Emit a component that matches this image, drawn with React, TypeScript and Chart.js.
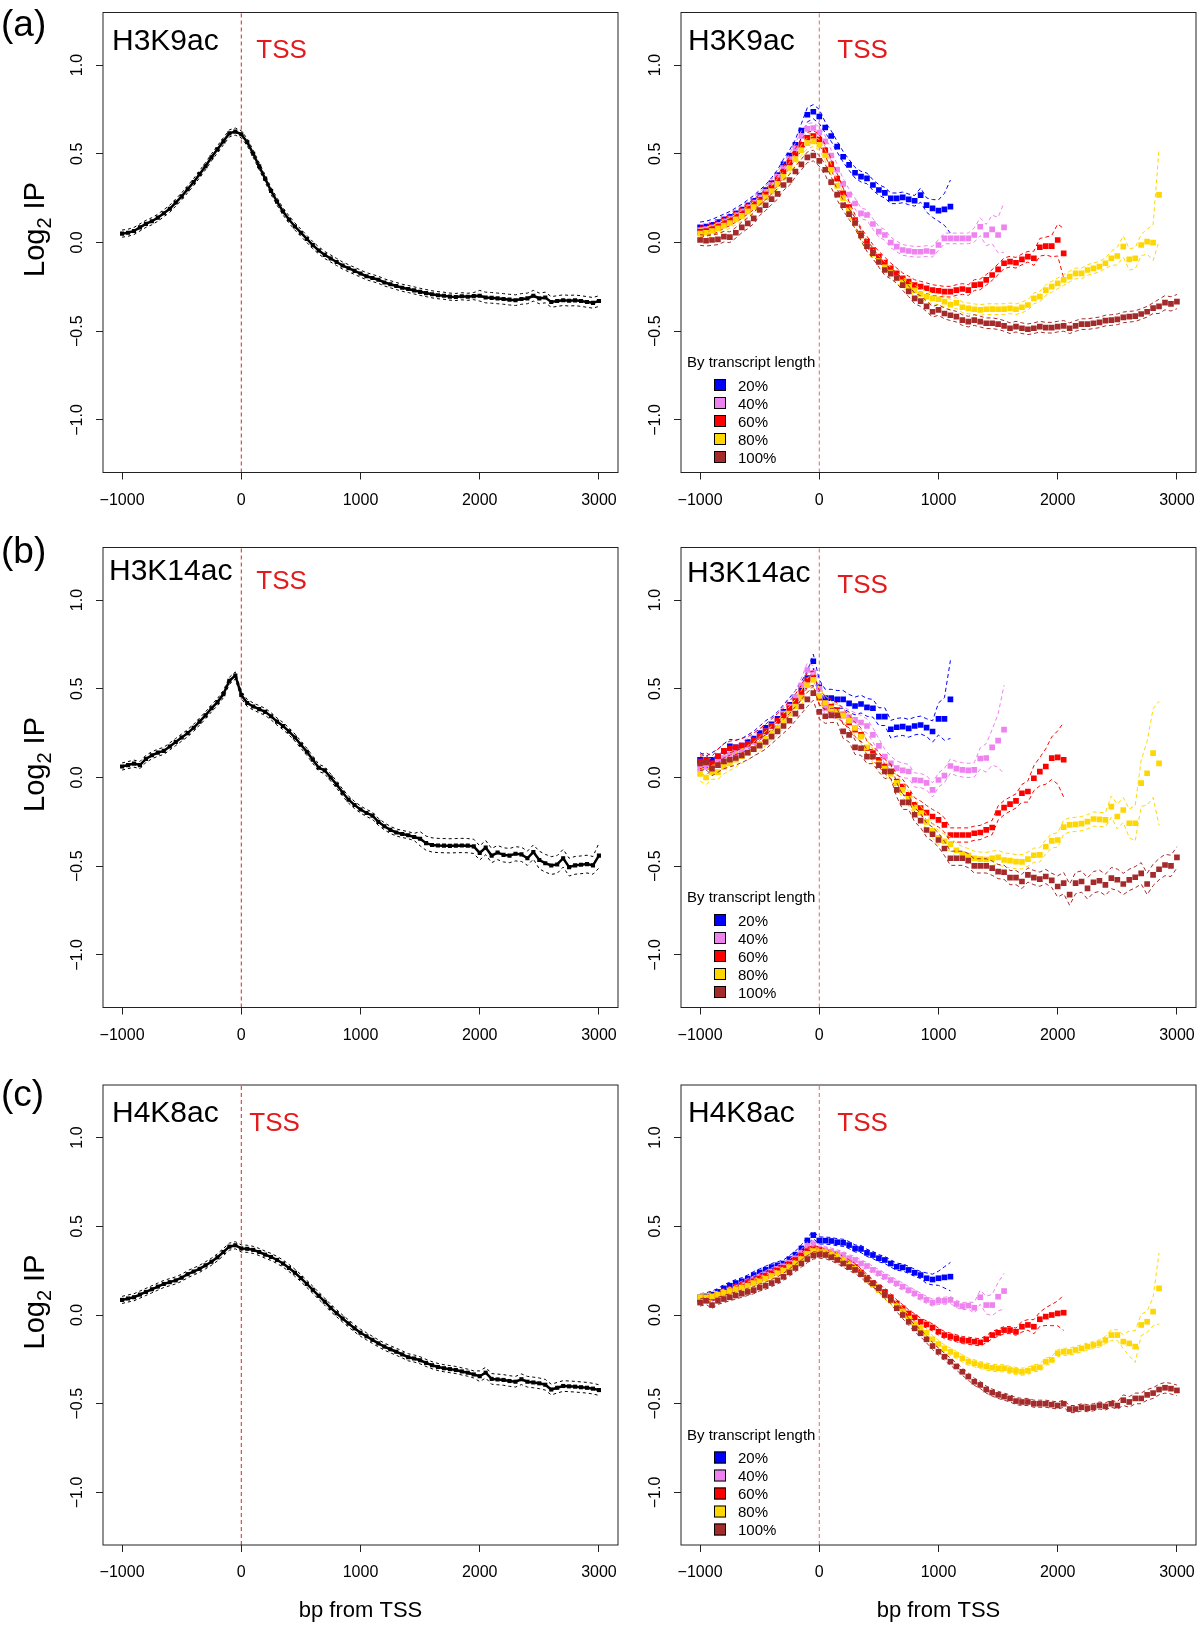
import React, { useEffect, useRef } from 'react';
import { Chart, registerables } from 'chart.js';
Chart.register(...registerables);

const FONT = '"Liberation Sans", Arial, Helvetica, sans-serif';

// ---- axes / categories ----
const X_START = -1000;
const X_STEP = 50;
const X_MIN = -1160;
const X_MAX = 3160;
const Y_MIN = -1.296;
const Y_MAX = 1.296;
const xTickValues = [-1000, 0, 1000, 2000, 3000];
const xTickLabels = ['\u22121000', '0', '1000', '2000', '3000'];
const yTickValues = [-1, -0.5, 0, 0.5, 1];
const yTickLabels = ['\u22121.0', '\u22120.5', '0.0', '0.5', '1.0'];
const tssPosition = 0;

const groupLabels = ['20%', '40%', '60%', '80%', '100%'];
const groupColors = ['#0000FF', '#EE82EE', '#FF0000', '#FFD700', '#A52A2A'];
const legendTitle = 'By transcript length';
const xAxisTitle = 'bp from TSS';

// ---- (a) H3K9ac ----
const h3k9acAll = [0.05,0.055,0.065,0.085,0.105,0.12,0.14,0.165,0.19,0.225,
  0.26,0.30,0.34,0.385,0.43,0.48,0.525,0.57,0.615,0.625,
  0.61,0.565,0.50,0.43,0.36,0.29,0.23,0.175,0.13,0.09,
  0.055,0.02,-0.015,-0.045,-0.07,-0.09,-0.11,-0.13,-0.145,-0.16,
  -0.175,-0.19,-0.2,-0.21,-0.225,-0.235,-0.245,-0.255,-0.262,-0.27,
  -0.278,-0.285,-0.292,-0.297,-0.30,-0.305,-0.307,-0.303,-0.306,-0.302,
  -0.30,-0.31,-0.312,-0.315,-0.318,-0.322,-0.325,-0.318,-0.315,-0.30,
  -0.315,-0.31,-0.335,-0.33,-0.325,-0.328,-0.326,-0.33,-0.335,-0.34,
  -0.33];
const h3k9acAllErr = [2,2,2,2,2,2,2,2,2,2, 2,2,2,2,2,2,2,2,2,2, 2,2,2,2,2,2,2,2,2,2,
  2,2,2,2,2,2,2,2,2,2, 2,2,2,2,2,2,2,2,2,2, 2,2,2,2,2,2,2,2,2,2,
  3,3,3,3,3,3,3,3,3,3, 3,3,3,3,3,3,3,3,3,3, 3];

const h3k9acBlue = [0.085,0.09,0.10,0.115,0.13,0.145,0.165,0.185,0.21,0.235,
  0.265,0.295,0.335,0.38,0.44,0.49,0.55,0.63,0.72,0.737,
  0.71,0.648,0.60,0.54,0.483,0.437,0.393,0.371,0.361,0.324,
  0.296,0.28,0.249,0.249,0.254,0.243,0.235,0.267,0.211,0.192,
  0.18,0.187,0.202];
const h3k9acBlueErr = [3,3,3,3,3,3,3,3,3,3, 3,3,3,3,3,3,3,4,4,4, 4,3,3,3,3,3,3,3,3,3,
  3,3,3,3,3,3,3,4,4,5, 6,9,15];
const h3k9acViolet = [0.07,0.075,0.085,0.10,0.12,0.135,0.155,0.175,0.2,0.225,
  0.255,0.285,0.325,0.37,0.42,0.47,0.53,0.6,0.64,0.645,
  0.62,0.57,0.49,0.41,0.33,0.27,0.22,0.164,0.155,0.104,
  0.061,0.042,0.0,-0.023,-0.042,-0.048,-0.052,-0.052,-0.048,-0.052,
  -0.014,0.023,0.023,0.023,0.023,0.023,0.042,0.089,0.042,0.074,
  0.042,0.085];
const h3k9acVioletErr = [3,3,3,3,3,3,3,3,3,3, 3,3,3,3,3,3,3,3,3,3, 3,3,3,3,3,3,3,3,3,3,
  3,3,3,3,3,3,3,3,3,3, 3,3,3,3,3,3,4,5,6,8, 10,14];
const h3k9acRed = [0.06,0.065,0.075,0.09,0.11,0.125,0.145,0.165,0.19,0.215,
  0.24,0.27,0.31,0.35,0.40,0.45,0.5,0.55,0.59,0.6,
  0.58,0.52,0.44,0.36,0.277,0.2,0.127,0.05,0.005,-0.042,
  -0.08,-0.113,-0.146,-0.174,-0.202,-0.22,-0.24,-0.249,-0.258,-0.268,
  -0.273,-0.277,-0.277,-0.268,-0.262,-0.268,-0.24,-0.236,-0.211,-0.183,
  -0.151,-0.117,-0.108,-0.114,-0.095,-0.08,-0.089,-0.027,-0.02,-0.02,
  0.014,-0.061];
const h3k9acRedErr = [3,3,3,3,3,3,3,3,3,3, 3,3,3,3,3,3,3,3,3,3, 3,3,3,3,3,3,3,3,3,3,
  3,3,3,3,3,3,3,3,3,3, 3,3,3,3,3,3,3,3,3,3, 3,3,3,3,3,3,4,5,5,6, 9,14];
const h3k9acYellow = [0.05,0.055,0.065,0.08,0.095,0.11,0.13,0.15,0.175,0.2,
  0.225,0.255,0.29,0.33,0.37,0.42,0.47,0.52,0.56,0.57,
  0.55,0.49,0.41,0.32,0.25,0.18,0.11,0.04,-0.02,-0.065,
  -0.105,-0.14,-0.17,-0.2,-0.225,-0.25,-0.27,-0.29,-0.305,-0.315,
  -0.32,-0.333,-0.35,-0.34,-0.365,-0.371,-0.376,-0.38,-0.376,-0.375,
  -0.376,-0.375,-0.371,-0.376,-0.365,-0.352,-0.315,-0.305,-0.268,-0.249,
  -0.23,-0.211,-0.192,-0.174,-0.174,-0.155,-0.146,-0.136,-0.117,-0.089,
  -0.076,-0.023,-0.095,-0.089,-0.014,0.005,-0.001,0.268];
const h3k9acYellowErr = [3,3,3,3,3,3,3,3,3,3, 3,3,3,3,3,3,3,3,3,3, 3,3,3,3,3,3,3,3,3,3,
  3,3,3,3,3,3,3,3,3,3, 3,3,3,3,3,3,3,3,3,3, 3,3,3,3,3,3,3,3,3,3,
  3,3,3,3,3,3,3,3,3,4, 5,6,6,6,6,7,10,26];
const h3k9acBrown = [0.014,0.01,0.014,0.018,0.033,0.03,0.055,0.085,0.108,0.136,
  0.183,0.21,0.244,0.274,0.324,0.352,0.4,0.44,0.48,0.49,
  0.46,0.41,0.34,0.27,0.21,0.16,0.11,0.04,-0.02,-0.06,
  -0.11,-0.155,-0.175,-0.2,-0.24,-0.275,-0.315,-0.33,-0.36,-0.39,
  -0.38,-0.4,-0.41,-0.418,-0.437,-0.446,-0.437,-0.446,-0.455,-0.455,
  -0.46,-0.47,-0.483,-0.474,-0.483,-0.489,-0.483,-0.474,-0.48,-0.48,
  -0.474,-0.47,-0.483,-0.47,-0.46,-0.46,-0.455,-0.45,-0.44,-0.437,
  -0.433,-0.422,-0.418,-0.415,-0.403,-0.39,-0.37,-0.36,-0.339,-0.346,
  -0.333];
const h3k9acBrownErr = [3,3,3,3,3,3,3,3,3,3, 3,3,3,3,3,3,3,3,3,3, 3,3,3,3,3,3,3,3,3,3,
  3,3,3,3,3,3,3,3,3,3, 3,3,3,3,3,3,3,3,3,3, 3,3,3,3,3,3,3,3,3,3,
  3,3,3,3,3,3,3,3,3,3, 3,3,3,3,3,3,3,4,4,4, 4];

// ---- (b) H3K14ac ----
const h3k14acAll = [0.062,0.07,0.078,0.07,0.105,0.125,0.14,0.15,0.175,0.2,
  0.225,0.25,0.28,0.315,0.35,0.39,0.425,0.47,0.545,0.575,
  0.465,0.42,0.40,0.385,0.37,0.345,0.315,0.29,0.26,0.225,
  0.185,0.145,0.10,0.055,0.04,0.0,-0.04,-0.085,-0.125,-0.155,
  -0.18,-0.20,-0.215,-0.25,-0.275,-0.295,-0.31,-0.318,-0.325,-0.335,
  -0.345,-0.37,-0.38,-0.383,-0.384,-0.385,-0.384,-0.383,-0.384,-0.388,
  -0.425,-0.395,-0.44,-0.423,-0.436,-0.44,-0.43,-0.433,-0.455,-0.42,
  -0.465,-0.483,-0.496,-0.49,-0.455,-0.505,-0.495,-0.492,-0.488,-0.495,
  -0.44];
const h3k14acAllErr = [2,2,2,2,2,2,2,2,2,2, 2,2,2,2,2,2,2,2,2,2, 2,2,2,2,2,2,2,2,2,2,
  2,2,2,2,2,2,2,2,2,2, 2,2,2,2,2,2,2,2,2,2, 4,4,4,4,4,4,4,4,4,4,
  4,4,4,4,4,4,4,4,4,4, 5,5,5,5,5,5,5,5,5,5, 7];

const h3k14acBlue = [0.1,0.08,0.1,0.12,0.15,0.175,0.17,0.18,0.2,0.22,
  0.25,0.28,0.3,0.33,0.37,0.41,0.45,0.5,0.56,0.655,
  0.51,0.447,0.447,0.44,0.44,0.418,0.403,0.414,0.395,0.39,
  0.343,0.343,0.272,0.283,0.287,0.277,0.29,0.296,0.281,0.259,
  0.33,0.33,0.44];
const h3k14acBlueErr = [4,4,4,4,4,4,4,4,4,4, 4,4,4,4,4,4,4,4,4,4, 4,5,5,5,5,5,5,5,5,5,
  5,5,5,5,5,5,5,5,5,6, 9,12,22];
const h3k14acViolet = [0.05,0.06,0.07,0.09,0.11,0.13,0.14,0.16,0.18,0.2,
  0.23,0.26,0.29,0.32,0.36,0.4,0.45,0.52,0.606,0.59,
  0.5,0.39,0.38,0.37,0.358,0.34,0.325,0.31,0.29,0.24,
  0.178,0.118,0.08,0.053,0.04,0.034,-0.014,-0.017,-0.03,-0.07,
  -0.014,0.011,0.065,0.05,0.043,0.04,0.043,0.107,0.11,0.17,
  0.208,0.27];
const h3k14acVioletErr = [4,4,4,4,4,4,4,4,4,4, 4,4,4,4,4,4,4,4,4,4, 4,4,4,4,4,4,4,4,4,4,
  4,4,4,4,4,4,4,4,4,4, 4,4,4,4,4,4,4,6,8,10, 15,25];
const h3k14acRed = [0.09,0.1,0.08,0.12,0.15,0.165,0.17,0.18,0.19,0.21,
  0.235,0.26,0.29,0.32,0.35,0.39,0.43,0.48,0.55,0.56,
  0.45,0.42,0.40,0.38,0.35,0.31,0.27,0.24,0.165,0.137,
  0.1,0.062,0.034,-0.023,-0.051,-0.098,-0.154,-0.173,-0.198,-0.22,
  -0.239,-0.267,-0.324,-0.324,-0.324,-0.324,-0.314,-0.31,-0.295,-0.282,
  -0.2,-0.17,-0.15,-0.132,-0.089,-0.079,-0.004,0.033,0.062,0.109,
  0.113,0.1];
const h3k14acRedErr = [4,4,4,4,4,4,4,4,4,4, 4,4,4,4,4,4,4,4,4,4, 4,4,4,4,4,4,4,4,4,4,
  4,4,4,4,4,4,4,4,4,4, 4,4,4,4,4,4,4,4,4,4, 4,4,4,4,5,6,7,8,10,12, 15,21];
const h3k14acYellow = [0.02,0.0,0.03,0.03,0.06,0.08,0.1,0.12,0.14,0.16,
  0.19,0.22,0.25,0.28,0.32,0.36,0.4,0.45,0.52,0.55,
  0.46,0.42,0.39,0.37,0.35,0.32,0.28,0.23,0.17,0.12,
  0.08,0.05,0.02,-0.03,-0.07,-0.12,-0.17,-0.2,-0.25,-0.3,
  -0.34,-0.36,-0.375,-0.41,-0.43,-0.44,-0.455,-0.46,-0.462,-0.455,
  -0.45,-0.465,-0.468,-0.474,-0.475,-0.46,-0.438,-0.436,-0.39,-0.357,
  -0.352,-0.28,-0.267,-0.264,-0.26,-0.249,-0.234,-0.236,-0.239,-0.164,
  -0.22,-0.183,-0.258,-0.258,-0.032,0.024,0.137,0.08];
const h3k14acYellowErr = [4,4,4,4,4,4,4,4,4,4, 4,4,4,4,4,4,4,4,4,4, 4,4,4,4,4,4,4,4,4,4,
  4,4,4,4,4,4,4,4,4,4, 4,4,4,4,4,4,4,4,4,4, 4,4,4,4,4,4,4,4,4,4,
  4,4,4,4,4,4,4,4,4,6, 7,7,8,10,13,18,25,35];
const h3k14acBrown = [0.08,0.085,0.05,0.07,0.09,0.1,0.11,0.125,0.14,0.16,
  0.18,0.2,0.23,0.26,0.29,0.32,0.36,0.4,0.44,0.475,
  0.37,0.345,0.35,0.35,0.26,0.24,0.17,0.165,0.118,0.118,
  0.07,0.034,0.034,-0.07,-0.14,-0.14,-0.21,-0.243,-0.296,-0.32,
  -0.352,-0.4,-0.455,-0.455,-0.455,-0.468,-0.498,-0.498,-0.498,-0.511,
  -0.53,-0.534,-0.564,-0.564,-0.586,-0.549,-0.564,-0.573,-0.558,-0.58,
  -0.614,-0.595,-0.66,-0.595,-0.586,-0.625,-0.59,-0.582,-0.605,-0.567,
  -0.576,-0.6,-0.577,-0.562,-0.54,-0.6,-0.549,-0.517,-0.493,-0.498,
  -0.45];
const h3k14acBrownErr = [4,4,4,4,4,4,4,4,4,4, 4,4,4,4,4,4,4,4,4,4, 4,4,4,4,4,4,4,4,4,4,
  4,4,4,4,4,4,4,4,4,4, 4,4,4,4,4,4,4,4,4,4, 4,4,4,4,4,4,4,4,4,4,
  6,6,6,6,6,6,6,6,6,6, 6,6,6,6,6,6,6,6,6,6, 6];

// ---- (c) H4K8ac ----
const h4k8acAll = [0.085,0.093,0.10,0.115,0.13,0.145,0.16,0.175,0.185,0.195,
  0.21,0.23,0.245,0.26,0.28,0.30,0.325,0.355,0.385,0.393,
  0.375,0.373,0.367,0.355,0.34,0.327,0.31,0.29,0.265,0.238,
  0.208,0.175,0.142,0.108,0.075,0.04,0.01,-0.02,-0.048,-0.075,
  -0.10,-0.12,-0.14,-0.16,-0.178,-0.193,-0.207,-0.222,-0.238,-0.245,
  -0.255,-0.27,-0.283,-0.293,-0.30,-0.305,-0.31,-0.318,-0.325,-0.335,
  -0.345,-0.325,-0.36,-0.363,-0.366,-0.372,-0.376,-0.362,-0.376,-0.38,
  -0.385,-0.393,-0.42,-0.41,-0.40,-0.402,-0.404,-0.407,-0.41,-0.415,
  -0.423];
const h4k8acAllErr = [2,2,2,2,2,2,2,2,2,2, 2,2,2,2,2,2,2,2,2,2, 2,2,2,2,2,2,2,2,2,2,
  2,2,2,2,2,2,2,2,2,2, 2,2,2,2,2,2,2,2,2,2, 2,2,2,2,2,2,2,2,2,2,
  3,3,3,3,3,3,3,3,3,3, 3,3,3,3,3,3,3,3,3,3, 3];

const h4k8acBlue = [0.1,0.105,0.115,0.13,0.15,0.165,0.18,0.19,0.205,0.225,
  0.24,0.255,0.27,0.28,0.29,0.315,0.34,0.375,0.42,0.45,
  0.42,0.419,0.417,0.41,0.407,0.394,0.375,0.372,0.35,0.338,
  0.32,0.31,0.29,0.272,0.268,0.254,0.238,0.225,0.207,0.2,
  0.207,0.212,0.216];
const h4k8acBlueErr = [2,2,2,2,2,2,2,2,2,2, 2,2,2,2,2,2,2,2,2,2, 2,2,2,2,2,2,2,2,2,2,
  2,2,2,2,2,2,2,2,3,3, 4,6,8];
const h4k8acViolet = [0.08,0.085,0.095,0.11,0.125,0.14,0.155,0.17,0.185,0.2,
  0.215,0.23,0.245,0.26,0.275,0.295,0.32,0.35,0.39,0.40,
  0.375,0.366,0.357,0.347,0.338,0.32,0.31,0.29,0.276,0.254,
  0.235,0.216,0.197,0.178,0.16,0.14,0.122,0.103,0.085,0.07,
  0.08,0.08,0.085,0.062,0.05,0.053,0.041,0.1,0.056,0.056,
  0.103,0.135];
const h4k8acVioletErr = [2,2,2,2,2,2,2,2,2,2, 2,2,2,2,2,2,2,2,2,2, 2,2,2,2,2,2,2,2,2,2,
  2,2,2,2,2,2,2,2,2,2, 2,2,2,2,2,2,3,4,5,6, 8,10];
const h4k8acRed = [0.09,0.095,0.1,0.115,0.13,0.14,0.155,0.165,0.18,0.19,
  0.205,0.22,0.235,0.25,0.265,0.285,0.31,0.335,0.36,0.37,
  0.365,0.35,0.34,0.33,0.31,0.29,0.27,0.24,0.21,0.18,
  0.155,0.13,0.1,0.065,0.038,0.009,-0.013,-0.038,-0.053,-0.07,
  -0.094,-0.113,-0.122,-0.131,-0.141,-0.145,-0.15,-0.154,-0.137,-0.113,
  -0.1,-0.085,-0.085,-0.094,-0.066,-0.056,-0.066,-0.024,-0.009,0.0,
  0.009,0.013];
const h4k8acRedErr = [2,2,2,2,2,2,2,2,2,2, 2,2,2,2,2,2,2,2,2,2, 2,2,2,2,2,2,2,2,2,2,
  2,2,2,2,2,2,2,2,2,2, 2,2,2,2,2,2,2,2,2,2, 2,2,2,2,3,3,4,4,5,6, 7,10];
const h4k8acYellow = [0.1,0.1,0.105,0.115,0.125,0.135,0.145,0.155,0.165,0.18,
  0.19,0.205,0.22,0.235,0.25,0.27,0.29,0.315,0.345,0.36,
  0.355,0.35,0.34,0.33,0.31,0.285,0.26,0.23,0.2,0.17,
  0.14,0.11,0.08,0.05,0.02,-0.02,-0.05,-0.075,-0.1,-0.137,
  -0.163,-0.188,-0.207,-0.225,-0.244,-0.263,-0.272,-0.282,-0.29,-0.297,
  -0.3,-0.3,-0.31,-0.315,-0.32,-0.314,-0.3,-0.295,-0.263,-0.253,
  -0.215,-0.207,-0.207,-0.197,-0.188,-0.178,-0.169,-0.16,-0.141,-0.113,
  -0.113,-0.15,-0.16,-0.178,-0.056,-0.038,0.019,0.15];
const h4k8acYellowErr = [2,2,2,2,2,2,2,2,2,2, 2,2,2,2,2,2,2,2,2,2, 2,2,2,2,2,2,2,2,2,2,
  2,2,2,2,2,2,2,2,2,2, 2,2,2,2,2,2,2,2,2,2, 2,2,2,2,2,2,2,2,2,2,
  2,2,2,2,2,2,2,2,2,3, 3,4,7,9,6,6,8,20];
const h4k8acBrown = [0.07,0.08,0.056,0.08,0.09,0.1,0.11,0.12,0.13,0.14,
  0.155,0.165,0.18,0.195,0.215,0.24,0.265,0.29,0.315,0.335,
  0.34,0.338,0.325,0.31,0.29,0.27,0.254,0.23,0.2,0.178,
  0.15,0.113,0.085,0.038,0.0,-0.038,-0.075,-0.103,-0.137,-0.175,
  -0.207,-0.235,-0.263,-0.29,-0.32,-0.347,-0.376,-0.394,-0.42,-0.437,
  -0.45,-0.46,-0.47,-0.485,-0.49,-0.49,-0.5,-0.5,-0.5,-0.505,
  -0.51,-0.5,-0.53,-0.53,-0.52,-0.525,-0.52,-0.51,-0.515,-0.5,
  -0.51,-0.48,-0.49,-0.47,-0.47,-0.45,-0.44,-0.42,-0.41,-0.415,
  -0.425];
const h4k8acBrownErr = [2,2,2,2,2,2,2,2,2,2, 2,2,2,2,2,2,2,2,2,2, 2,2,2,2,2,2,2,2,2,2,
  2,2,2,2,2,2,2,2,2,2, 2,2,2,2,2,2,2,2,2,2, 2,2,2,2,2,2,2,2,2,2,
  2,2,2,2,2,2,2,2,2,2, 2,3,3,3,3,3,3,3,3,3, 3];

// ---- panel layout ----
type PanelCfg = {
  key: string; left: number; top: number; width: number; height: number;
  padTop: number; padRight: number; yAxisW: number; xAxisH: number;
  title: string; titleDx: number; titleBase: number; tssDx: number; tssBase: number; tssLine: string;
  rowTag?: string; rowTagBase?: number; yTitle?: boolean; xTitleBase?: number;
  overall?: { values: number[]; err: number[] };
  groups?: { values: number[][]; err: number[][] };
};

const ROWS = [
  { top: 0, height: 535, padTop: 12.5, xAxisH: 62.5 },
  { top: 535, height: 537, padTop: 12.5, xAxisH: 64.5 },
  { top: 1072, height: 555, padTop: 13, xAxisH: 82 },
];
const LEFT_COL = { left: 0, width: 640, yAxisW: 103, padRight: 22 };
const RIGHT_COL = { left: 640, width: 560, yAxisW: 41, padRight: 4 };

const panels: PanelCfg[] = [
  { key: 'a1', ...LEFT_COL, ...ROWS[0], title: 'H3K9ac', titleDx: 9, titleBase: 37.5, tssDx: 15, tssBase: 45.5, tssLine: '#E02020',
    rowTag: '(a)', rowTagBase: 36, yTitle: true, overall: { values: h3k9acAll, err: h3k9acAllErr } },
  { key: 'a2', ...RIGHT_COL, ...ROWS[0], title: 'H3K9ac', titleDx: 7, titleBase: 37.5, tssDx: 18, tssBase: 45.5, tssLine: '#F06060',
    groups: { values: [h3k9acBlue, h3k9acViolet, h3k9acRed, h3k9acYellow, h3k9acBrown], err: [h3k9acBlueErr, h3k9acVioletErr, h3k9acRedErr, h3k9acYellowErr, h3k9acBrownErr] } },
  { key: 'b1', ...LEFT_COL, ...ROWS[1], title: 'H3K14ac', titleDx: 6, titleBase: 32, tssDx: 15, tssBase: 41.5, tssLine: '#E02020',
    rowTag: '(b)', rowTagBase: 28, yTitle: true, overall: { values: h3k14acAll, err: h3k14acAllErr } },
  { key: 'b2', ...RIGHT_COL, ...ROWS[1], title: 'H3K14ac', titleDx: 6, titleBase: 34, tssDx: 18, tssBase: 45, tssLine: '#F06060',
    groups: { values: [h3k14acBlue, h3k14acViolet, h3k14acRed, h3k14acYellow, h3k14acBrown], err: [h3k14acBlueErr, h3k14acVioletErr, h3k14acRedErr, h3k14acYellowErr, h3k14acBrownErr] } },
  { key: 'c1', ...LEFT_COL, ...ROWS[2], title: 'H4K8ac', titleDx: 9, titleBase: 37, tssDx: 8, tssBase: 45.5, tssLine: '#E02020',
    rowTag: '(c)', rowTagBase: 34, yTitle: true, xTitleBase: 545, overall: { values: h4k8acAll, err: h4k8acAllErr } },
  { key: 'c2', ...RIGHT_COL, ...ROWS[2], title: 'H4K8ac', titleDx: 7, titleBase: 37, tssDx: 18, tssBase: 45.5, tssLine: '#F06060',
    xTitleBase: 545,
    groups: { values: [h4k8acBlue, h4k8acViolet, h4k8acRed, h4k8acYellow, h4k8acBrown], err: [h4k8acBlueErr, h4k8acVioletErr, h4k8acRedErr, h4k8acYellowErr, h4k8acBrownErr] } },
];

const toPoints = (vals: number[], err: number[] | null, sign: number) =>
  vals.map((v, i) => ({ x: X_START + i * X_STEP, y: err ? v + (sign * err[i]) / 100 : v }));

function buildDatasets(p: PanelCfg) {
  // listed bottom -> top, reversed at the end (Chart.js draws index 0 last)
  const ds: any[] = [];
  ds.push({
    data: [{ x: tssPosition, y: Y_MIN }, { x: tssPosition, y: Y_MAX }],
    showLine: true, borderColor: p.tssLine, borderWidth: 1, borderDash: [4, 3], pointRadius: 0,
  });
  if (p.overall) {
    const { values, err } = p.overall;
    for (const s of [1, -1]) {
      ds.push({ data: toPoints(values, err, s), showLine: true, borderColor: '#000', borderWidth: 1,
        borderDash: [3, 3], pointRadius: 0 });
    }
    ds.push({ data: toPoints(values, null, 0), showLine: true, borderColor: '#000', borderWidth: 2.5,
      pointStyle: 'rect', pointRadius: 2.9, pointBackgroundColor: '#000', pointBorderWidth: 0 });
  }
  if (p.groups) {
    p.groups.values.forEach((values, g) => {
      const color = groupColors[g];
      ds.push({ data: toPoints(values, null, 0), showLine: false, pointStyle: 'rect', pointRadius: 4,
        pointBackgroundColor: color, pointBorderWidth: 0 });
      for (const s of [1, -1]) {
        ds.push({ data: toPoints(values, p.groups!.err[g], s), showLine: true, borderColor: color,
          borderWidth: 1, borderDash: [4, 3], pointRadius: 0 });
      }
    });
  }
  return ds.reverse();
}

function makeDecor(p: PanelCfg) {
  return {
    id: 'decor_' + p.key,
    afterDraw(chart: any) {
      const ctx = chart.ctx as CanvasRenderingContext2D;
      const ca = chart.chartArea;
      ctx.save();
      ctx.strokeStyle = '#222';
      ctx.lineWidth = 1;
      ctx.strokeRect(ca.left, ca.top, ca.right - ca.left, ca.bottom - ca.top);

      ctx.textAlign = 'left';
      ctx.textBaseline = 'alphabetic';
      ctx.fillStyle = '#000';
      ctx.font = `30px ${FONT}`;
      ctx.fillText(p.title, ca.left + p.titleDx, ca.top + p.titleBase);

      const x0 = chart.scales.x.getPixelForValue(tssPosition);
      ctx.fillStyle = '#E41A1C';
      ctx.font = `26px ${FONT}`;
      ctx.fillText('TSS', x0 + p.tssDx, ca.top + p.tssBase);

      if (p.rowTag) {
        ctx.fillStyle = '#000';
        ctx.font = `37px ${FONT}`;
        ctx.fillText(p.rowTag, 1, p.rowTagBase!);
      }

      if (p.yTitle) {
        ctx.save();
        ctx.translate(44, (ca.top + ca.bottom) / 2 - 13);
        ctx.rotate(-Math.PI / 2);
        ctx.fillStyle = '#000';
        ctx.font = `29px ${FONT}`;
        const w1 = ctx.measureText('Log').width;
        const w3 = ctx.measureText(' IP').width;
        ctx.font = `20px ${FONT}`;
        const w2 = ctx.measureText('2').width;
        const sx = -(w1 + w2 + w3) / 2;
        ctx.font = `29px ${FONT}`;
        ctx.fillText('Log', sx, 0);
        ctx.font = `20px ${FONT}`;
        ctx.fillText('2', sx + w1, 7);
        ctx.font = `29px ${FONT}`;
        ctx.fillText(' IP', sx + w1 + w2, 0);
        ctx.restore();
      }

      if (p.xTitleBase) {
        ctx.fillStyle = '#000';
        ctx.font = `22px ${FONT}`;
        ctx.textAlign = 'center';
        ctx.fillText(xAxisTitle, (ca.left + ca.right) / 2, p.xTitleBase);
        ctx.textAlign = 'left';
      }

      if (p.groups) {
        ctx.fillStyle = '#000';
        ctx.font = `15px ${FONT}`;
        ctx.fillText(legendTitle, ca.left + 6, ca.top + 354.5);
        groupLabels.forEach((lab, i) => {
          const cy = ca.top + 372.5 + 18 * i;
          ctx.fillStyle = groupColors[i];
          ctx.fillRect(ca.left + 33, cy - 6, 12, 12);
          ctx.strokeStyle = '#000';
          ctx.lineWidth = 1;
          ctx.strokeRect(ca.left + 33.5, cy - 5.5, 11, 11);
          ctx.fillStyle = '#000';
          ctx.fillText(lab, ca.left + 57, cy + 5.5);
        });
      }
      ctx.restore();
    },
  };
}

function PanelChart({ p }: { p: PanelCfg }) {
  const ref = useRef<HTMLCanvasElement | null>(null);
  useEffect(() => {
    if (!ref.current) return;
    const chart = new Chart(ref.current, {
      type: 'scatter',
      data: { datasets: buildDatasets(p) },
      options: {
        responsive: false,
        animation: false,
        devicePixelRatio: 1,
        events: [],
        layout: { padding: { top: p.padTop, right: p.padRight, left: 0, bottom: 0 } },
        plugins: { legend: { display: false }, tooltip: { enabled: false }, title: { display: false } },
        scales: {
          x: {
            type: 'linear', min: X_MIN, max: X_MAX,
            afterBuildTicks: (s: any) => { s.ticks = xTickValues.map((v) => ({ value: v })); },
            afterFit: (s: any) => { s.height = p.xAxisH; s.paddingLeft = 0; s.paddingRight = 0; },
            grid: { display: true, drawOnChartArea: false, drawTicks: true, tickLength: 7, color: '#222', lineWidth: 1 },
            border: { display: false },
            ticks: { autoSkip: false, minRotation: 0, maxRotation: 0, padding: 11, color: '#000',
              font: { family: FONT, size: 16 }, callback: (_v: any, i: number) => xTickLabels[i] },
          },
          y: {
            type: 'linear', min: Y_MIN, max: Y_MAX,
            afterBuildTicks: (s: any) => { s.ticks = yTickValues.map((v) => ({ value: v })); },
            afterFit: (s: any) => { s.width = p.yAxisW; s.paddingTop = 0; s.paddingBottom = 0; },
            grid: { display: true, drawOnChartArea: false, drawTicks: true, tickLength: 7, color: '#222', lineWidth: 1 },
            border: { display: false },
            ticks: { autoSkip: false, minRotation: 90, maxRotation: 90, crossAlign: 'center', padding: 3, color: '#000',
              font: { family: FONT, size: 16 }, callback: (_v: any, i: number) => yTickLabels[i] },
          },
        },
      } as any,
      plugins: [makeDecor(p)],
    });
    return () => chart.destroy();
  }, [p]);
  return (
    <canvas
      ref={ref}
      width={p.width}
      height={p.height}
      style={{ position: 'absolute', left: p.left, top: p.top, width: p.width, height: p.height }}
    />
  );
}

export default function App() {
  return (
    <div style={{ position: 'absolute', left: 0, top: 0, width: 1200, height: 1627, background: '#fff' }}>
      {panels.map((p) => <PanelChart key={p.key} p={p} />)}
    </div>
  );
}
